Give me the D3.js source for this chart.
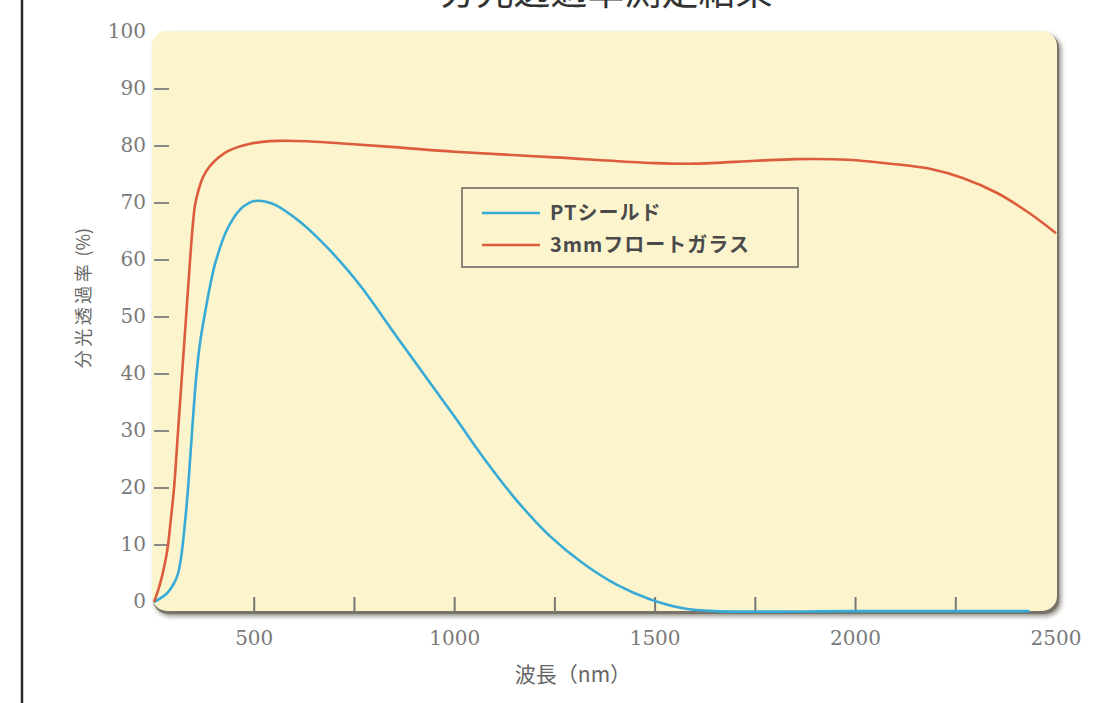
<!DOCTYPE html>
<html>
<head>
<meta charset="utf-8">
<script src="https://cdn.jsdelivr.net/npm/d3@7"></script>
<style>
  html, body { margin: 0; padding: 0; background: #fff; }
  svg { display: block; }
</style>
</head>
<body>
<svg></svg>
<script>
const width = 1113;
const height = 703;

// wavelength (nm) / transmittance (%)
const glassNm = [250, 260, 270, 280, 285, 292, 300, 310, 320, 330, 340, 346, 352, 360, 372, 390, 432, 490, 557, 640, 730, 850, 1000, 1250, 1500, 1600, 1750, 1850, 1980, 2100, 2185, 2267, 2352, 2434, 2500];
const glassT  = [0, 2, 4.5, 7.8, 10, 14.5, 20, 30, 40, 50, 60, 65.5, 69.5, 72, 74.5, 76.5, 79, 80.4, 80.9, 80.8, 80.4, 79.8, 79.0, 78.0, 77.0, 76.9, 77.4, 77.7, 77.6, 76.8, 76.0, 74.4, 71.8, 68.2, 64.7];

const shieldNm = [250, 282, 300, 310, 318, 326, 335, 345, 356, 366, 378, 390, 403, 432, 464, 490, 507, 530, 557, 614, 671, 731, 771, 856, 938, 1000, 1070, 1155, 1237, 1320, 1405, 1487, 1570, 1650, 2000, 2434];
const shieldT  = [0, 1.5, 3.3, 5, 8, 13, 20, 30, 40, 46, 51, 55.5, 59.5, 65.3, 68.8, 70.1, 70.4, 70.2, 69.5, 66.7, 63.0, 58.4, 54.9, 46.5, 38.5, 32.5, 25.5, 17.8, 11.6, 6.8, 3.0, 0.5, -1.1, -1.6, -1.6, -1.6];

const seriesNames = ["PTシールド", "3mmフロートガラス"];
const seriesColors = ["#38aad6", "#dc5c3c"];

const yTicks = [0, 10, 20, 30, 40, 50, 60, 70, 80, 90, 100];
const xTicks = [500, 1000, 1500, 2000, 2500];
const xMinorTicks = [500, 750, 1000, 1250, 1500, 1750, 2000, 2250];

const svg = d3.select("svg").attr("width", width).attr("height", height);

const x = d3.scaleLinear().domain([250, 2500]).range([154, 1056]);
const y = d3.scaleLinear().domain([0, 100]).range([602, 32]);

// left frame line
svg.append("line")
    .attr("x1", 22).attr("x2", 22).attr("y1", 0).attr("y2", height)
    .attr("stroke", "#2a2a2a").attr("stroke-width", 2.5);

// title (cut off at the top, as in the source)
svg.append("text")
    .attr("x", 606).attr("y", 5)
    .attr("text-anchor", "middle")
    .attr("font-family", "'Noto Sans CJK JP', sans-serif")
    .attr("font-size", 37)
    .attr("fill", "#333")
    .text("分光透過率測定結果");

// panel with shadow
const defs = svg.append("defs");
const f = defs.append("filter").attr("id", "shadow")
    .attr("x", "-5%").attr("y", "-5%").attr("width", "110%").attr("height", "110%");
f.append("feGaussianBlur").attr("stdDeviation", 2.5);

svg.append("rect")
    .attr("x", 155).attr("y", 35).attr("width", 906).attr("height", 581)
    .attr("rx", 15)
    .attr("fill", "#8a877c")
    .attr("filter", "url(#shadow)");
svg.append("rect")
    .attr("x", 153).attr("y", 33).attr("width", 906).attr("height", 581)
    .attr("rx", 15)
    .attr("fill", "#77736a");
svg.append("rect")
    .attr("x", 152).attr("y", 31).attr("width", 905).attr("height", 580)
    .attr("rx", 15)
    .attr("fill", "#fbf4cd");

// ticks inside the panel
svg.selectAll(".ytick")
    .data(yTicks.filter(d => d > 0 && d < 100))
    .enter().append("line")
    .attr("x1", 154).attr("x2", 169)
    .attr("y1", d => y(d)).attr("y2", d => y(d))
    .attr("stroke", "#888").attr("stroke-width", 2);

svg.selectAll(".xtick")
    .data(xMinorTicks)
    .enter().append("line")
    .attr("x1", d => x(d)).attr("x2", d => x(d))
    .attr("y1", 597).attr("y2", 611)
    .attr("stroke", "#777").attr("stroke-width", 2);

// tick labels
svg.selectAll(".ylabel")
    .data(yTicks)
    .enter().append("text")
    .attr("x", 146).attr("y", d => y(d))
    .attr("dy", "0.3em")
    .attr("text-anchor", "end")
    .attr("font-family", "'DejaVu Serif', serif")
    .attr("font-size", 20)
    .attr("fill", "#7a7a7a")
    .text(d => d);

svg.selectAll(".xlabel")
    .data(xTicks)
    .enter().append("text")
    .attr("x", d => x(d)).attr("y", 638)
    .attr("dy", "0.35em")
    .attr("text-anchor", "middle")
    .attr("font-family", "'DejaVu Serif', serif")
    .attr("font-size", 20)
    .attr("fill", "#7a7a7a")
    .text(d => d);

// axis titles
svg.append("text")
    .attr("x", 573).attr("y", 675)
    .attr("dy", "0.35em")
    .attr("text-anchor", "middle")
    .attr("font-family", "'Noto Sans CJK JP', sans-serif")
    .attr("font-size", 21)
    .attr("fill", "#666")
    .text("波長（nm）");

const yTitle = svg.append("text")
    .attr("transform", "translate(84,298) rotate(-90)")
    .attr("dy", "0.35em")
    .attr("text-anchor", "middle")
    .attr("font-family", "'Noto Sans CJK JP', sans-serif")
    .attr("font-size", 18)
    .attr("fill", "#666");
yTitle.append("tspan").attr("letter-spacing", 3.5).text("分光透過率");
yTitle.append("tspan").text(" (%)");

// curves
const line = d3.line()
    .x(d => x(d[0]))
    .y(d => y(d[1]))
    .curve(d3.curveCatmullRom.alpha(0.5));

const series = [
    d3.zip(shieldNm, shieldT),
    d3.zip(glassNm, glassT)
];

svg.selectAll(".curve")
    .data(series)
    .enter().append("path")
    .attr("d", line)
    .attr("fill", "none")
    .attr("stroke", (d, i) => seriesColors[i])
    .attr("stroke-width", 2.6)
    .attr("stroke-linejoin", "round");

// legend
svg.append("rect")
    .attr("x", 462).attr("y", 188).attr("width", 336).attr("height", 79)
    .attr("fill", "none")
    .attr("stroke", "#7d7a70").attr("stroke-width", 1.8);

const legendY = [213, 245];
seriesNames.forEach((name, i) => {
    svg.append("line")
        .attr("x1", 482).attr("x2", 540)
        .attr("y1", legendY[i]).attr("y2", legendY[i])
        .attr("stroke", seriesColors[i]).attr("stroke-width", 2.6);
    svg.append("text")
        .attr("x", 550).attr("y", legendY[i])
        .attr("dy", "0.35em")
        .attr("font-family", "'Noto Sans CJK JP', sans-serif")
        .attr("font-weight", "bold")
        .attr("font-size", 20)
        .attr("letter-spacing", 1)
        .attr("fill", "#4a4a4a")
        .text(name);
});
</script>
</body>
</html>
